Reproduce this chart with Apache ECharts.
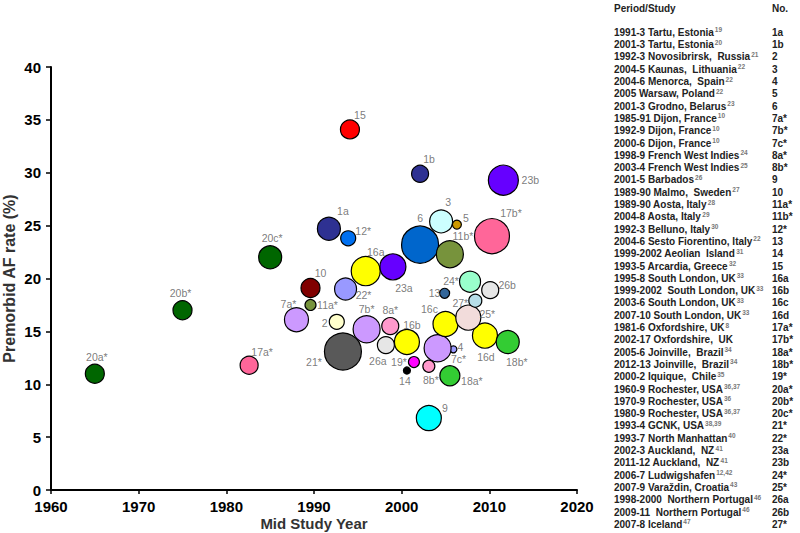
<!DOCTYPE html>
<html>
<head>
<meta charset="utf-8">
<script src="https://cdn.jsdelivr.net/npm/echarts@6/dist/echarts.min.js"></script>
<style>html,body{margin:0;padding:0;background:#fff}#c{width:800px;height:533px}</style>
</head>
<body>
<div id="c"></div>
<script>
// ---- data ----
const studyIds = ['1a','1b','2','3','4','5','6','7a*','7b*','7c*','8a*','8b*','9','10','11a*','11b*','12*','13','14','15','16a','16b','16c','16d','17a*','17b*','18a*','18b*','19*','20a*','20b*','20c*','21*','22*','23a','23b','24*','25*','26a','26b','27*'];
const midStudyYear = [1991.7,2002.1,1992.6,2004.5,2005.9,2006.3,2002.1,1988.0,1996.0,2004.1,1998.7,2003.1,2003.1,1989.6,1989.6,2005.5,1993.9,2004.9,2000.6,1994.1,1995.9,2000.6,2005.0,2009.5,1982.6,2010.3,2005.5,2012.1,2001.4,1965.0,1975.0,1985.0,1993.3,1993.6,1999.0,2011.6,2007.8,2007.6,1998.2,2010.1,2008.4];
const afRate = [24.7,29.9,15.9,25.4,13.3,25.1,23.2,16.1,15.2,13.4,15.5,11.7,6.8,19.1,17.5,22.3,23.8,18.6,11.3,34.1,20.7,14.0,15.7,14.6,11.8,24.0,10.8,14.0,12.1,11.0,17.0,22.0,13.1,19.0,21.1,29.3,19.7,16.3,13.7,18.9,17.9];
const bubbleWeight = [23,17,15,23,7,9,37,24,27,27,17,12,25,19,11,27,15,10,7,19,29,25,25,25,18,35,20,23,11,19,19,23,37,22,26,30,21,25,17,17,13];
const yTicks = [0,5,10,15,20,25,30,35,40];
const xTicks = [1960,1970,1980,1990,2000,2010,2020];

const tableNames = ['1991-3 Tartu, Estonia','2001-3 Tartu, Estonia','1992-3 Novosibrirsk,  Russia','2004-5 Kaunas,  Lithuania','2004-6 Menorca,  Spain','2005 Warsaw, Poland','2001-3 Grodno, Belarus','1985-91 Dijon, France','1992-9 Dijon, France','2000-6 Dijon, France','1998-9 French West Indies','2003-4 French West Indies','2001-5 Barbados','1989-90 Malmo,  Sweden','1989-90 Aosta, Italy','2004-8 Aosta, Italy','1992-3 Belluno, Italy','2004-6 Sesto Fiorentino, Italy','1999-2002 Aeolian  Island','1993-5 Arcardia, Greece','1995-8 South London, UK','1999-2002  South London, UK','2003-6 South London, UK','2007-10 South London, UK','1981-6 Oxfordshire, UK','2002-17 Oxfordshire,  UK','2005-6 Joinville,  Brazil','2012-13 Joinville,  Brazil','2000-2 Iquique,  Chile','1960-9 Rochester, USA','1970-9 Rochester, USA','1980-9 Rochester, USA','1993-4 GCNK, USA','1993-7 North Manhattan','2002-3 Auckland,  NZ','2011-12 Auckland,  NZ','2006-7 Ludwigshafen','2007-9 Varaždin, Croatia','1998-2000  Northern Portugal','2009-11  Northern Portugal','2007-8 Iceland'];
const tableRefs = ['19','20','21','22','22','22','23','10','10','10','24','25','26','27','28','29','30','22','31','32','33','33','33','33','8','','34','34','35','36,37','36','36,37','38,39','40','41','41','12,42','43','46','46','47'];

// ---- styles ----
const colorOf = {
  '1a':'#2e3192','1b':'#2e3192','2':'#ffffcc','3':'#ccffff','4':'#9999ff','5':'#cc9900','6':'#0066cc',
  '7a*':'#cc99ff','7b*':'#cc99ff','7c*':'#cc99ff','8a*':'#ff99cc','8b*':'#ff99cc','9':'#00ffff','10':'#800000',
  '11a*':'#77933c','11b*':'#77933c','12*':'#0070f0','13':'#336699','14':'#000000','15':'#ff0000',
  '16a':'#ffff00','16b':'#ffff00','16c':'#ffff00','16d':'#ffff00','17a*':'#ff6699','17b*':'#ff6699',
  '18a*':'#33cc33','18b*':'#33cc33','19*':'#ff00ff','20a*':'#006600','20b*':'#006600','20c*':'#006600',
  '21*':'#595959','22*':'#9999ff','23a':'#6600ff','23b':'#6600ff','24*':'#99ffcc','25*':'#f2dcdb',
  '26a':'#e6e6e6','26b':'#e6e6e6','27*':'#b7dee8'
};
const labelOffset = {
  '20a*':[2,-17],'20b*':[-2,-17],'20c*':[2,-19],'17a*':[13,-13],'7a*':[-8,-16],'10':[10,-15],'11a*':[17,0],
  '1a':[14,-18],'12*':[15,-7],'15':[10,-14],'2':[-12,1],'21*':[-29,11],'22*':[18,6],'16a':[10,-19],
  '7b*':[0,-20],'8a*':[0,-16],'26a':[-8,16],'23a':[11,21],'16b':[5,-17],'19*':[-15,0],'14':[-2,10],
  '6':[0,-27],'1b':[9,-15],'9':[16,-10],'8b*':[2,14],'7c*':[21,11],'4':[7,-2],'3':[7,-19],'5':[9,-7],
  '11b*':[13,-18],'13':[-10,0],'16c':[-16,-15],'18a*':[22,5],'24*':[-19,-1],'27*':[-15,2],'26b':[17,-5],
  '25*':[19,-4],'16d':[1,21],'18b*':[9,20],'17b*':[19,-23],'23b':[27,0]
};
const FONT_FAMILY = 'Arial, "Liberation Sans", sans-serif';

const bubbles = studyIds.map((id, i) => ({
  name: id,
  value: [midStudyYear[i], afRate[i], bubbleWeight[i]],
  itemStyle: { color: colorOf[id] }
}));
const labelPoints = studyIds.map((id, i) => ({
  name: id,
  value: [midStudyYear[i], afRate[i]],
  label: { offset: labelOffset[id] || [0,0] }
}));

// table graphics
const measureCtx = document.createElement('canvas').getContext('2d');
function textWidth(t, font) { measureCtx.font = font; return measureCtx.measureText(t).width; }
const mainFont = 'bold 10px ' + FONT_FAMILY;
const supFont = 'bold 6.5px ' + FONT_FAMILY;
const rowTop = 33.3, rowStep = 12.3;
const tableEls = [
  { type:'text', left:614, top:3, style:{ text:'Period/Study', font:mainFont, fill:'#222' } },
  { type:'text', left:772, top:3, style:{ text:'No.', font:mainFont, fill:'#222' } }
];
tableNames.forEach((nm, i) => {
  const txt = nm.replace(/  /g, ' \u00A0');
  const y = rowTop + i * rowStep - 6;
  tableEls.push({ type:'text', left:614, top:y, style:{ text: txt, font: mainFont, fill:'#222' } });
  if (tableRefs[i]) {
    const w = textWidth(txt, mainFont);
    tableEls.push({ type:'text', left:614 + w + 1, top:y - 1, style:{ text: tableRefs[i], font: supFont, fill:'#777' } });
  }
  tableEls.push({ type:'text', left:772, top:y, style:{ text: studyIds[i], font: mainFont, fill:'#222' } });
});

const chart = echarts.init(document.getElementById('c'), null, { renderer:'svg' });
chart.setOption({
  animation:false,
  backgroundColor:'#fff',
  grid:{ left:51, right:223, top:67, bottom:43, outerBoundsMode:'none', containLabel:false },
  xAxis:{
    type:'value', min:xTicks[0], max:xTicks[xTicks.length-1], interval:10,
    name:'Mid Study Year', nameLocation:'middle', nameGap:26, nameMoveOverlap:false,
    nameTextStyle:{ fontSize:15, fontWeight:'bold', color:'#333', fontFamily:FONT_FAMILY, verticalAlign:'top' },
    axisLine:{ show:true, onZero:false, lineStyle:{ color:'#000', width:2 } },
    axisTick:{ show:true, length:4, lineStyle:{ color:'#000', width:1.5 } },
    axisLabel:{ color:'#000', fontSize:15, fontWeight:'bold', margin:9, fontFamily:FONT_FAMILY, formatter: v => String(v) },
    splitLine:{ show:false }
  },
  yAxis:{
    type:'value', min:yTicks[0], max:yTicks[yTicks.length-1], interval:5,
    name:'Premorbid AF rate (%)', nameLocation:'middle', nameGap:42, nameRotate:90, nameMoveOverlap:false,
    nameTextStyle:{ fontSize:16, fontWeight:'bold', color:'#333', fontFamily:FONT_FAMILY, verticalAlign:'middle' },
    axisLine:{ show:true, onZero:false, lineStyle:{ color:'#000', width:2 } },
    axisTick:{ show:true, length:5, lineStyle:{ color:'#000', width:1.5 } },
    axisLabel:{ color:'#000', fontSize:15, fontWeight:'bold', margin:10, fontFamily:FONT_FAMILY },
    splitLine:{ show:false }
  },
  series:[{
    type:'scatter',
    data: bubbles,
    symbolSize: v => v[2],
    itemStyle:{ borderColor:'#000', borderWidth:1.2, opacity:1 },
    label:{ show:false },
    emphasis:{ disabled:true },
    z:2
  },{
    type:'scatter',
    data: labelPoints,
    symbolSize: 1,
    itemStyle:{ color:'rgba(0,0,0,0)', borderWidth:0 },
    label:{ show:true, position:'inside', formatter:'{b}', color:'#595959', textBorderWidth:0, fontSize:10.5, fontFamily:FONT_FAMILY },
    emphasis:{ disabled:true },
    silent:true,
    z:3
  }],
  graphic: tableEls
});
</script>
</body>
</html>
